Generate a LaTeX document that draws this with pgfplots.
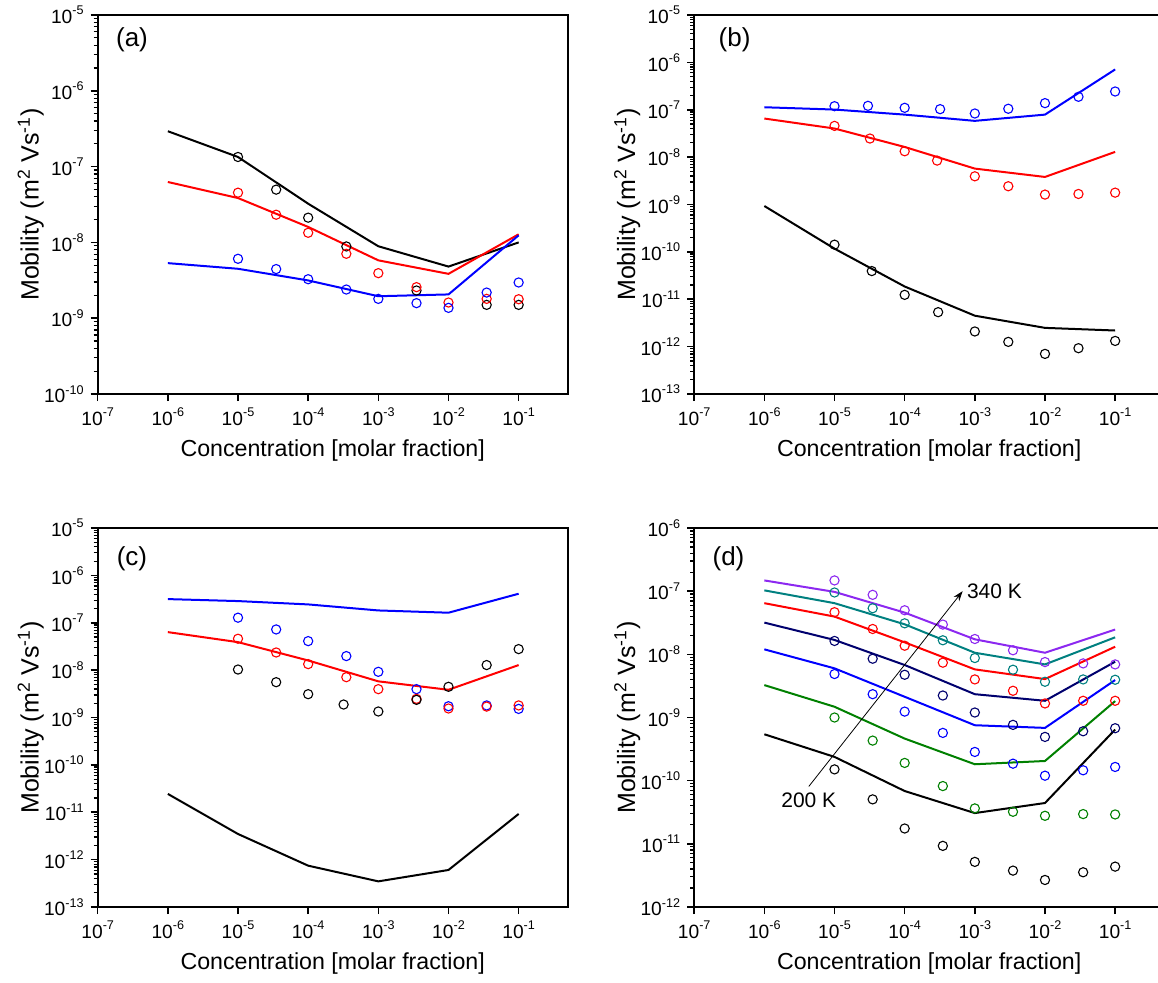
\documentclass[border=0pt]{standalone}
\usepackage{fontspec}
\setmainfont{Liberation Sans}
\usepackage{pgfplots}
\pgfplotsset{compat=1.18}
\usepgfplotslibrary{groupplots}
\usetikzlibrary{arrows.meta,calc}

\definecolor{vio}{RGB}{140,40,240}
\definecolor{tealc}{RGB}{0,128,128}
\definecolor{navyc}{RGB}{0,0,110}
\definecolor{greenc}{RGB}{0,128,0}

% small ticks at 2..9 in every decade, one list per y range
\newcommand\mkminor[3]{\xdef#1{1e#2}%
  \foreach \ee in {#2,...,#3}{\foreach \mm in {2,...,9}{\xdef#1{#1,\mm e\ee}}}}
\mkminor\mla{-10}{-6}
\mkminor\mlb{-13}{-6}
\mkminor\mld{-12}{-7}

\newcommand\tl[1]{10\raisebox{0.45em}{\fontsize{6.3}{7}\selectfont #1}}
\tikzset{plab/.style={font=\fontsize{13}{15}\selectfont}}

\pgfplotsset{
  mob/.style={
    xmode=log, ymode=log,
    scale only axis, width=235pt, height=189.5pt,
    xmin=1e-7, xmax=0.5,
    xtick={1e-7,1e-6,1e-5,1e-4,1e-3,1e-2,1e-1}, xminorticks=false,
    axis line style={line width=0.9pt},
    tick align=outside, xtick pos=left, ytick pos=left,
    major tick length=3.5pt, minor tick length=2pt,
    major tick style={black, line width=0.8pt},
    minor tick style={black, line width=0.6pt},
    xticklabel={\tl{\pgfmathparse{int(round(\tick/ln(10)))}\pgfmathresult}},
    yticklabel={\tl{\pgfmathparse{int(round(\tick/ln(10)))}\pgfmathresult}},
    tick label style={font=\fontsize{9.6}{11}\selectfont},
    xlabel style={font=\fontsize{11.6}{13}\selectfont},
    every axis y label/.style={at={(rel axis cs:0,0.5)}, xshift=-33.5pt, rotate=90, anchor=center,
      font=\fontsize{12.5}{14}\selectfont},
    xlabel={Concentration [molar fraction]},
    ylabel={Mobility (m\textsuperscript{2} Vs\textsuperscript{-1})},
  },
  fit/.style={line width=1pt, no marks},
  exp/.style={only marks, mark=o, mark size=2.3pt, mark options={line width=0.55pt}},
}

\begin{document}
\begin{tikzpicture}
\begin{groupplot}[group style={group size=2 by 2, horizontal sep=63.25pt, vertical sep=67pt}, mob]

% (a)
\nextgroupplot[ymin=1e-10, ymax=1e-5, ytick={1e-10,1e-9,1e-8,1e-7,1e-6,1e-5}, minor ytick/.expanded=\mla]
\coordinate (anw) at (rel axis cs:0,1);
\addplot[fit, black] coordinates {(1e-6,2.93e-7) (1e-5,1.34e-7) (1e-4,3.24e-8) (1e-3,8.9e-9) (1e-2,4.8e-9) (1e-1,1.0e-8)};
\addplot[fit, red] coordinates {(1e-6,6.27e-8) (1e-5,3.85e-8) (1e-4,1.6e-8) (1e-3,5.8e-9) (1e-2,3.85e-9) (1e-1,1.28e-8)};
\addplot[fit, blue] coordinates {(1e-6,5.33e-9) (1e-5,4.49e-9) (1e-4,3.15e-9) (1e-3,1.95e-9) (1e-2,2.06e-9) (1e-1,1.24e-8)};
\addplot[exp, black] coordinates {(1e-5,1.34e-7) (3.5e-5,4.97e-8) (1e-4,2.12e-8) (3.5e-4,8.85e-9) (3.5e-3,2.32e-9) (3.5e-2,1.5e-9) (1e-1,1.5e-9)};
\addplot[exp, red] coordinates {(1e-5,4.53e-8) (3.5e-5,2.32e-8) (1e-4,1.34e-8) (3.5e-4,7.08e-9) (1e-3,3.93e-9) (3.5e-3,2.57e-9) (1e-2,1.61e-9) (3.5e-2,1.8e-9) (1e-1,1.78e-9)};
\addplot[exp, blue] coordinates {(1e-5,6.08e-9) (3.5e-5,4.45e-9) (1e-4,3.27e-9) (3.5e-4,2.39e-9) (1e-3,1.8e-9) (3.5e-3,1.58e-9) (1e-2,1.37e-9) (3.5e-2,2.18e-9) (1e-1,2.96e-9)};
\node[plab] at (rel axis cs:0.073,0.934) {(a)};

% (b)
\nextgroupplot[ymin=1e-13, ymax=1e-5, ytick={1e-13,1e-12,1e-11,1e-10,1e-9,1e-8,1e-7,1e-6,1e-5}, minor ytick/.expanded=\mlb]
\addplot[fit, blue] coordinates {(1e-6,1.13e-7) (1e-5,1.01e-7) (1e-4,7.9e-8) (1e-3,5.83e-8) (1e-2,7.9e-8) (1e-1,7.1e-7)};
\addplot[fit, red] coordinates {(1e-6,6.53e-8) (1e-5,4.02e-8) (1e-4,1.64e-8) (1e-3,5.73e-9) (1e-2,3.82e-9) (1e-1,1.29e-8)};
\addplot[fit, black] coordinates {(1e-6,9.3e-10) (1e-5,1.17e-10) (1e-4,1.86e-11) (1e-3,4.5e-12) (1e-2,2.49e-12) (1e-1,2.19e-12)};
\addplot[exp, blue] coordinates {(1e-5,1.19e-7) (3e-5,1.21e-7) (1e-4,1.1e-7) (3.2e-4,1.03e-7) (1e-3,8.34e-8) (3e-3,1.05e-7) (1e-2,1.38e-7) (3e-2,1.88e-7) (1e-1,2.43e-7)};
\addplot[exp, red] coordinates {(1e-5,4.57e-8) (3.2e-5,2.47e-8) (1e-4,1.33e-8) (2.9e-4,8.46e-9) (1e-3,3.94e-9) (3e-3,2.43e-9) (1e-2,1.62e-9) (3e-2,1.67e-9) (1e-1,1.78e-9)};
\addplot[exp, black] coordinates {(1e-5,1.42e-10) (3.4e-5,3.94e-11) (1e-4,1.24e-11) (3e-4,5.34e-12) (1e-3,2.09e-12) (3e-3,1.26e-12) (1e-2,7.03e-13) (3e-2,9.27e-13) (1e-1,1.32e-12)};
\node[plab] at (rel axis cs:0.086,0.934) {(b)};

% (c)
\nextgroupplot[ymin=1e-13, ymax=1e-5, ytick={1e-13,1e-12,1e-11,1e-10,1e-9,1e-8,1e-7,1e-6,1e-5}, minor ytick/.expanded=\mlb]
\addplot[fit, blue] coordinates {(1e-6,3.16e-7) (1e-5,2.87e-7) (1e-4,2.44e-7) (1e-3,1.82e-7) (1e-2,1.63e-7) (1e-1,4.1e-7)};
\addplot[fit, red] coordinates {(1e-6,6.35e-8) (1e-5,3.9e-8) (1e-4,1.6e-8) (1e-3,5.8e-9) (1e-2,3.85e-9) (1e-1,1.28e-8)};
\addplot[fit, black] coordinates {(1e-6,2.44e-11) (1e-5,3.48e-12) (1e-4,7.46e-13) (1e-3,3.48e-13) (1e-2,6.05e-13) (1e-1,9.22e-12)};
\addplot[exp, blue] coordinates {(1e-5,1.28e-7) (3.5e-5,7.23e-8) (1e-4,4.1e-8) (3.5e-4,1.98e-8) (1e-3,9.22e-9) (3.5e-3,3.97e-9) (1e-2,1.73e-9) (3.5e-2,1.8e-9) (1e-1,1.52e-9)};
\addplot[exp, red] coordinates {(1e-5,4.6e-8) (3.5e-5,2.36e-8) (1e-4,1.34e-8) (3.5e-4,7.1e-9) (1e-3,3.97e-9) (3.5e-3,2.48e-9) (1e-2,1.55e-9) (3.5e-2,1.7e-9) (1e-1,1.8e-9)};
\addplot[exp, black] coordinates {(1e-5,1.03e-8) (3.5e-5,5.57e-9) (1e-4,3.11e-9) (3.2e-4,1.88e-9) (1e-3,1.34e-9) (3.5e-3,2.36e-9) (1e-2,4.45e-9) (3.5e-2,1.28e-8) (1e-1,2.78e-8)};
\node[plab] at (rel axis cs:0.073,0.92) {(c)};

% (d)
\nextgroupplot[ymin=1e-12, ymax=1e-6, ytick={1e-12,1e-11,1e-10,1e-9,1e-8,1e-7,1e-6}, minor ytick/.expanded=\mld]
\addplot[fit, vio] coordinates {(1e-6,1.48e-7) (1e-5,9.75e-8) (1e-4,4.58e-8) (1e-3,1.73e-8) (1e-2,1.06e-8) (1e-1,2.47e-8)};
\addplot[fit, tealc] coordinates {(1e-6,1.03e-7) (1e-5,6.46e-8) (1e-4,2.99e-8) (1e-3,1.06e-8) (1e-2,6.93e-9) (1e-1,1.86e-8)};
\addplot[fit, red] coordinates {(1e-6,6.46e-8) (1e-5,3.96e-8) (1e-4,1.55e-8) (1e-3,5.78e-9) (1e-2,4.06e-9) (1e-1,1.32e-8)};
\addplot[fit, navyc] coordinates {(1e-6,3.18e-8) (1e-5,1.69e-8) (1e-4,6.78e-9) (1e-3,2.34e-9) (1e-2,1.84e-9) (1e-1,7.65e-9)};
\addplot[fit, blue] coordinates {(1e-6,1.2e-8) (1e-5,6.0e-9) (1e-4,2.13e-9) (1e-3,7.55e-10) (1e-2,6.85e-10) (1e-1,3.92e-9)};
\addplot[fit, greenc] coordinates {(1e-6,3.26e-9) (1e-5,1.48e-9) (1e-4,4.64e-10) (1e-3,1.82e-10) (1e-2,2.05e-10) (1e-1,1.82e-9)};
\addplot[fit, black] coordinates {(1e-6,5.43e-10) (1e-5,2.38e-10) (1e-4,6.86e-11) (1e-3,3.07e-11) (1e-2,4.43e-11) (1e-1,6.45e-10)};
\addplot[exp, vio] coordinates {(1e-5,1.48e-7) (3.5e-5,8.75e-8) (1e-4,4.99e-8) (3.5e-4,2.96e-8) (1e-3,1.75e-8) (3.5e-3,1.16e-8) (1e-2,7.55e-9) (3.5e-2,7.19e-9) (1e-1,6.93e-9)};
\addplot[exp, tealc] coordinates {(1e-5,9.53e-8) (3.5e-5,5.37e-8) (1e-4,3.1e-8) (3.5e-4,1.67e-8) (1e-3,8.74e-9) (3.5e-3,5.71e-9) (1e-2,3.68e-9) (3.5e-2,4.01e-9) (1e-1,3.96e-9)};
\addplot[exp, red] coordinates {(1e-5,4.65e-8) (3.5e-5,2.52e-8) (1e-4,1.37e-8) (3.5e-4,7.38e-9) (1e-3,4.01e-9) (3.5e-3,2.65e-9) (1e-2,1.67e-9) (3.5e-2,1.84e-9) (1e-1,1.84e-9)};
\addplot[exp, navyc] coordinates {(1e-5,1.63e-8) (3.5e-5,8.53e-9) (1e-4,4.75e-9) (3.5e-4,2.23e-9) (1e-3,1.2e-9) (3.5e-3,7.65e-10) (1e-2,4.93e-10) (3.5e-2,6.06e-10) (1e-1,6.77e-10)};
\addplot[exp, blue] coordinates {(1e-5,4.88e-9) (3.5e-5,2.34e-9) (1e-4,1.24e-9) (3.5e-4,5.71e-10) (1e-3,2.85e-10) (3.5e-3,1.86e-10) (1e-2,1.2e-10) (3.5e-2,1.46e-10) (1e-1,1.65e-10)};
\addplot[exp, greenc] coordinates {(1e-5,1.0e-9) (3.5e-5,4.31e-10) (1e-4,1.91e-10) (3.5e-4,8.22e-11) (1e-3,3.64e-11) (3.5e-3,3.22e-11) (1e-2,2.78e-11) (3.5e-2,2.96e-11) (1e-1,2.92e-11)};
\addplot[exp, black] coordinates {(1e-5,1.51e-10) (3.5e-5,5.06e-11) (1e-4,1.75e-11) (3.5e-4,9.29e-12) (1e-3,5.18e-12) (3.5e-3,3.77e-12) (1e-2,2.68e-12) (3.5e-2,3.55e-12) (1e-1,4.36e-12)};
\draw[-{Stealth[length=5pt,width=3.5pt]}, line width=0.4pt] (axis cs:4.3e-6,8.1e-11) -- (axis cs:6.7e-4,1e-7)
  node[right, inner sep=2pt, font=\fontsize{10.5}{12}\selectfont] {340 K};
\node[below, inner sep=3pt, font=\fontsize{10.5}{12}\selectfont] at (axis cs:4.3e-6,8.1e-11) {200 K};
\node[plab] at (rel axis cs:0.073,0.92) {(d)};
\end{groupplot}
\pgfresetboundingbox
\useasboundingbox ($(anw)+(-48.85pt,7.5pt)$) rectangle ($(anw)+(530.15pt,-483.5pt)$);
\end{tikzpicture}
\end{document}
